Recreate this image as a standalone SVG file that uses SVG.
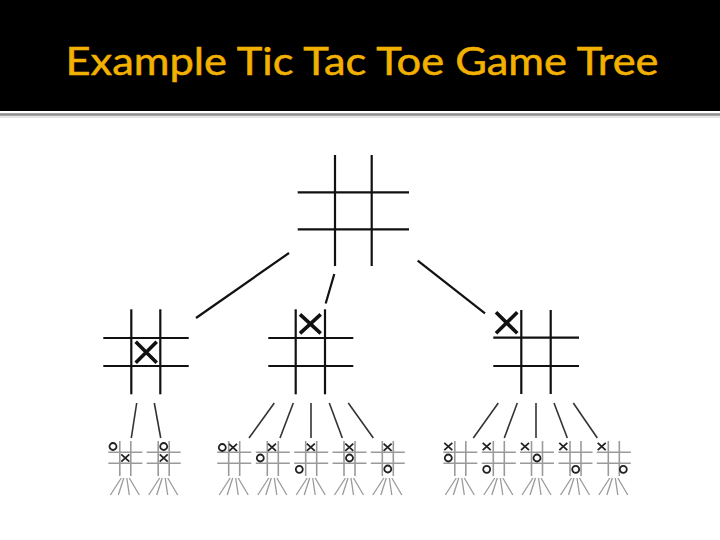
<svg xmlns="http://www.w3.org/2000/svg" xmlns:xlink="http://www.w3.org/1999/xlink" width="720" height="540" viewBox="0 0 720 540">
<style>
.big{stroke:#111;stroke-width:2.2;fill:none}
.bx{stroke:#111;stroke-width:3.6;fill:none;stroke-linecap:butt}
.edge{stroke:#111;stroke-width:2.2;fill:none}
.edge2{stroke:#333;stroke-width:1.6;fill:none}
.sg{stroke:#9a9a9a;stroke-width:1.6;fill:none}
.sm{stroke:#222;stroke-width:1.8;fill:none}
.fan{stroke:#9a9a9a;stroke-width:1.3;fill:none}
.title{font-family:Lato,"Open Sans",sans-serif;font-size:38.5px;fill:#F2B100;stroke:#F2B100;stroke-width:0.5}
</style>
<defs>
<g id="small">
<line class="sg" x1="-5.5" y1="441" x2="-5.5" y2="476"/>
<line class="sg" x1="5.5" y1="441" x2="5.5" y2="476"/>
<line class="sg" x1="-17" y1="452.3" x2="17" y2="452.3"/>
<line class="sg" x1="-17" y1="463.3" x2="17" y2="463.3"/>
<line class="fan" x1="-4" y1="478" x2="-15" y2="495"/>
<line class="fan" x1="-1.5" y1="478" x2="-7" y2="495"/>
<line class="fan" x1="1.5" y1="478" x2="4" y2="495"/>
<line class="fan" x1="4" y1="478" x2="14" y2="495"/>
</g>
<path id="sx" class="sm" d="M-4,-3.6 L4,3.6 M4,-3.6 L-4,3.6"/>
<circle id="so" class="sm" r="3.5" cx="0" cy="0"/>
</defs>

<rect x="0" y="0" width="720" height="111" fill="#000"/>
<line x1="0" y1="114.5" x2="720" y2="114.5" stroke="#8c8c8c" stroke-width="2.5"/>
<line x1="0" y1="117" x2="720" y2="117" stroke="#d0d0d0" stroke-width="1"/>
<text class="title" x="362" y="75" text-anchor="middle" textLength="593" lengthAdjust="spacingAndGlyphs">Example Tic Tac Toe Game Tree</text>

<g id="connectors">
<line class="edge" x1="289" y1="253" x2="196" y2="318"/>
<line class="edge" x1="334.3" y1="274" x2="325.7" y2="303.5"/>
<line class="edge" x1="417.7" y1="260.7" x2="485" y2="313.3"/>
<line class="edge2" x1="136.7" y1="403" x2="131.3" y2="438"/>
<line class="edge2" x1="154.3" y1="403" x2="160.7" y2="438"/>
<line class="edge2" x1="274.3" y1="403" x2="249" y2="438"/>
<line class="edge2" x1="293.3" y1="403" x2="280" y2="438"/>
<line class="edge2" x1="311" y1="403" x2="311" y2="438"/>
<line class="edge2" x1="329.3" y1="403" x2="342.3" y2="438"/>
<line class="edge2" x1="348.3" y1="403" x2="373.3" y2="438"/>
<line class="edge2" x1="498.3" y1="403" x2="473.3" y2="438"/>
<line class="edge2" x1="517.3" y1="403" x2="504.3" y2="438"/>
<line class="edge2" x1="536" y1="403" x2="536" y2="438"/>
<line class="edge2" x1="554" y1="403" x2="567.3" y2="438"/>
<line class="edge2" x1="573.3" y1="403" x2="597.3" y2="438"/>
</g>

<g id="root">
<line class="big" x1="335" y1="155" x2="335" y2="266"/>
<line class="big" x1="371.7" y1="155" x2="371.7" y2="266"/>
<line class="big" x1="297.7" y1="192.3" x2="409" y2="192.3"/>
<line class="big" x1="297.7" y1="229.3" x2="409" y2="229.3"/>
</g>

<g id="m1">
<line class="big" x1="131.3" y1="309.3" x2="131.3" y2="394.3"/>
<line class="big" x1="160.3" y1="309.3" x2="160.3" y2="394.3"/>
<line class="big" x1="103.3" y1="338" x2="188.7" y2="338"/>
<line class="big" x1="103.3" y1="366" x2="188.7" y2="366"/>
<path class="bx" d="M135.7,341.7 L156.7,362.7 M156.7,341.7 L135.7,362.7"/>
</g>

<g id="m2">
<line class="big" x1="295.7" y1="309.3" x2="295.7" y2="394.3"/>
<line class="big" x1="325" y1="309.3" x2="325" y2="394.3"/>
<line class="big" x1="268.3" y1="338" x2="353.3" y2="338"/>
<line class="big" x1="268.3" y1="366" x2="353.3" y2="366"/>
<path class="bx" d="M300,314.3 L320.7,333.3 M320.7,314.3 L300,333.3"/>
</g>

<g id="m3">
<line class="big" x1="521.3" y1="310" x2="521.3" y2="394"/>
<line class="big" x1="550.7" y1="310" x2="550.7" y2="394"/>
<line class="big" x1="493.3" y1="337.7" x2="579" y2="337.7"/>
<line class="big" x1="493.3" y1="366" x2="579" y2="366"/>
<path class="bx" d="M496,312.3 L517.3,333.3 M517.3,312.3 L496,333.3"/>
</g>

<g id="b1"><use xlink:href="#small" x="125.3"/><use xlink:href="#so" x="113" y="446.5"/><use xlink:href="#sx" x="125.3" y="458"/></g>
<g id="b2"><use xlink:href="#small" x="163.7"/><use xlink:href="#so" x="163.7" y="446.5"/><use xlink:href="#sx" x="163.7" y="458"/></g>

<g id="b3"><use xlink:href="#small" x="234.2"/><use xlink:href="#so" x="222.3" y="447.5"/><use xlink:href="#sx" x="233" y="447.5"/></g>
<g id="b4"><use xlink:href="#small" x="272.8"/><use xlink:href="#so" x="260.3" y="458"/><use xlink:href="#sx" x="272" y="447.3"/></g>
<g id="b5"><use xlink:href="#small" x="311.2"/><use xlink:href="#so" x="299.3" y="469.3"/><use xlink:href="#sx" x="310.8" y="447.3"/></g>
<g id="b6"><use xlink:href="#small" x="349.5"/><use xlink:href="#so" x="349.5" y="458"/><use xlink:href="#sx" x="349.3" y="447.3"/></g>
<g id="b7"><use xlink:href="#small" x="387.8"/><use xlink:href="#so" x="387.8" y="469"/><use xlink:href="#sx" x="387.6" y="447.3"/></g>

<g id="b8"><use xlink:href="#small" x="460.3"/><use xlink:href="#sx" x="448.3" y="446.5"/><use xlink:href="#so" x="448.3" y="458"/></g>
<g id="b9"><use xlink:href="#small" x="498.8"/><use xlink:href="#sx" x="486.7" y="446.5"/><use xlink:href="#so" x="486.7" y="469.3"/></g>
<g id="b10"><use xlink:href="#small" x="537"/><use xlink:href="#sx" x="525" y="446.5"/><use xlink:href="#so" x="537" y="458"/></g>
<g id="b11"><use xlink:href="#small" x="575.5"/><use xlink:href="#sx" x="563.3" y="446.5"/><use xlink:href="#so" x="575.7" y="469.3"/></g>
<g id="b12"><use xlink:href="#small" x="613.8"/><use xlink:href="#sx" x="601.7" y="446.5"/><use xlink:href="#so" x="623.3" y="469.3"/></g>
</svg>
